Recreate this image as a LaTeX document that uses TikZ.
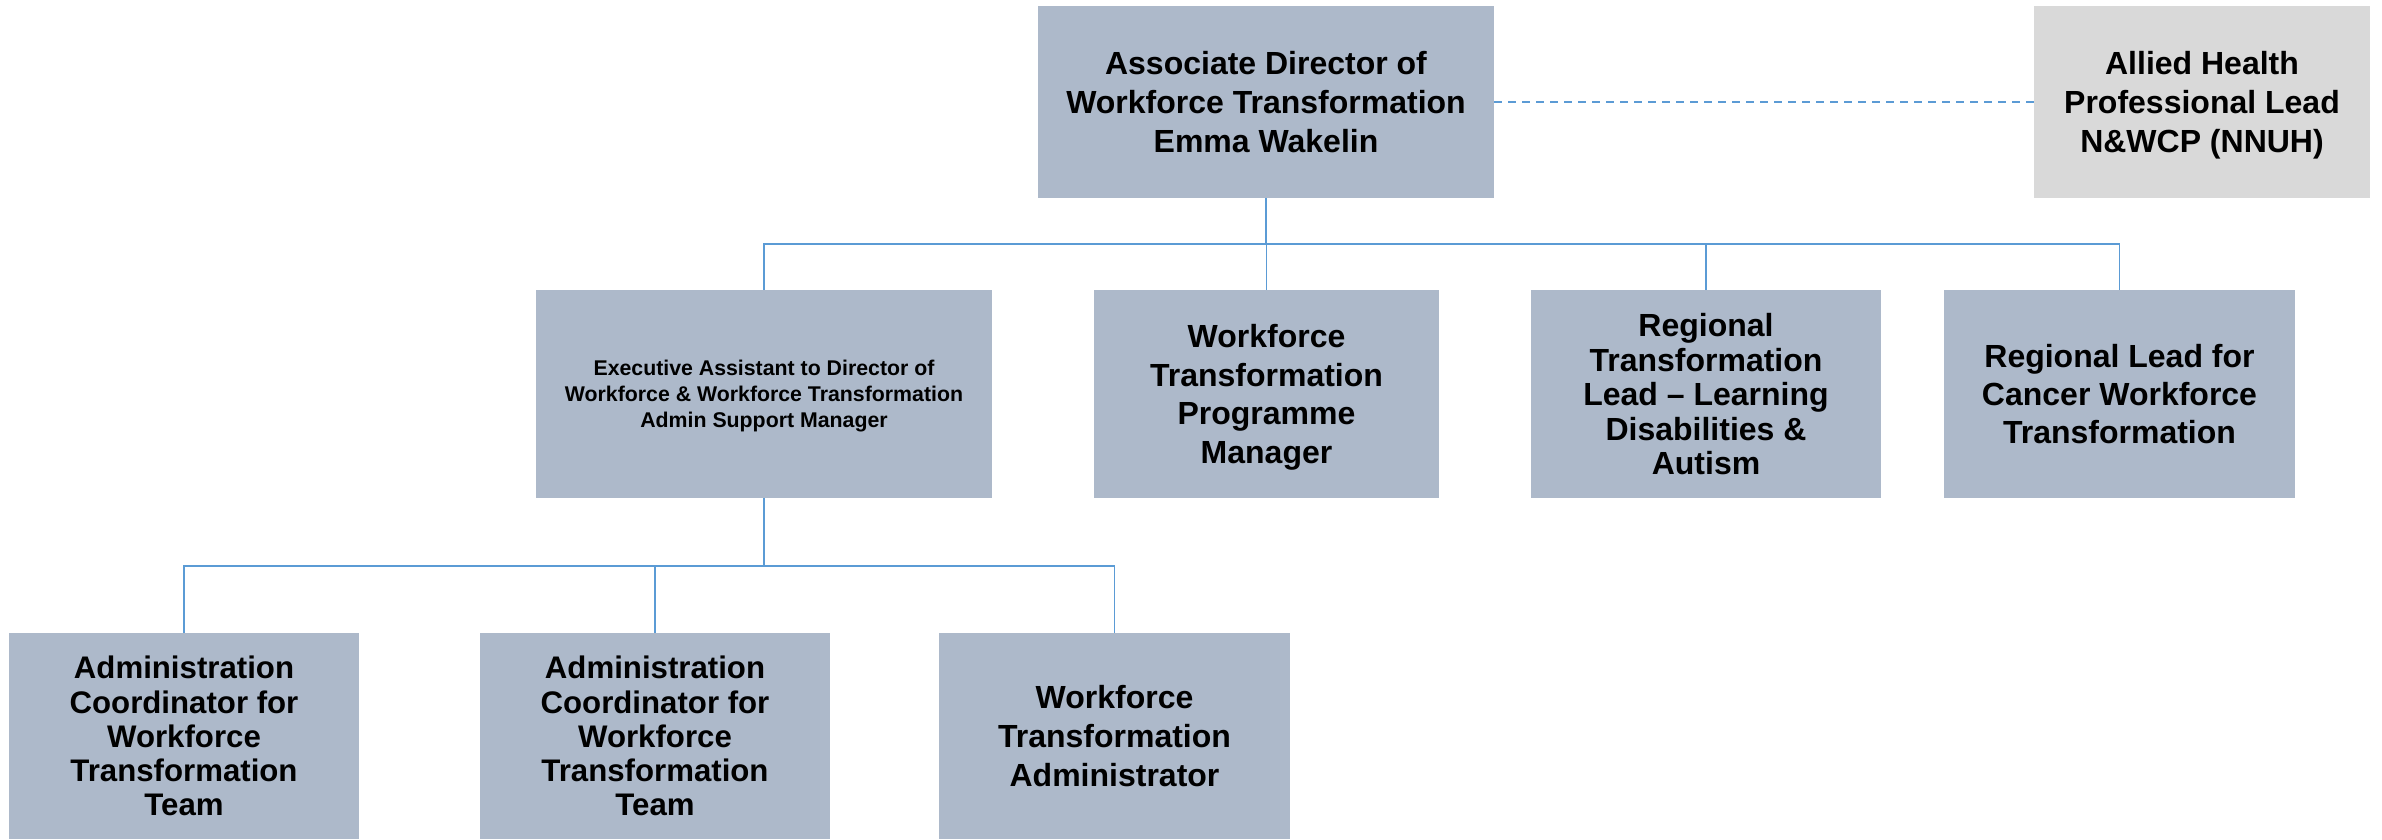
\documentclass[tikz,border=0pt]{standalone}
\usepackage{fontspec}
\setmainfont{Liberation Sans}
\begin{document}
\begin{tikzpicture}[x=1pt,y=-1pt,
  box/.style={rectangle, fill=boxfill, draw=none, inner sep=0pt, align=center,
    text depth=0pt, font=\bfseries\fontsize{32}{38.7}\selectfont},
  graybox/.style={box, fill=grayfill},
  conn/.style={draw=linecol, line width=1.7pt},
  dconn/.style={draw=linecol, line width=2.2pt, dash pattern=on 8pt off 6pt}]
\definecolor{boxfill}{HTML}{ADB9CA}
\definecolor{grayfill}{HTML}{D9D9D9}
\definecolor{linecol}{HTML}{5B9BD5}
\useasboundingbox (0,0) rectangle (2382,839);
% level 0
\node[box, minimum width=456pt, minimum height=192pt] (top) at (1266,102)
  {Associate Director of\\Workforce Transformation\\Emma Wakelin};
\node[graybox, minimum width=336pt, minimum height=192pt] (ahp) at (2202,102)
  {Allied Health\\Professional Lead\\N\&WCP (NNUH)};
% level 1
\node[box, minimum width=456pt, minimum height=208pt,
  font=\bfseries\fontsize{21.3}{25.8}\selectfont] (exec) at (764,394)
  {Executive Assistant to Director of\\Workforce \& Workforce Transformation\\Admin Support Manager};
\node[box, minimum width=345pt, minimum height=208pt] (wtpm) at (1266.5,394)
  {Workforce\\Transformation\\Programme\\Manager};
\node[box, minimum width=350pt, minimum height=208pt,
  font=\bfseries\fontsize{32}{34.6}\selectfont] (rtl) at (1706,394)
  {Regional\\Transformation\\Lead -- Learning\\Disabilities \&\\Autism};
\node[box, minimum width=351pt, minimum height=208pt,
  font=\bfseries\fontsize{32}{38}\selectfont] (rlc) at (2119.5,394)
  {Regional Lead for\\Cancer Workforce\\Transformation};
% level 2
\node[box, minimum width=350pt, minimum height=206pt,
  font=\bfseries\fontsize{31.2}{34.2}\selectfont] (b1) at (184,736)
  {Administration\\Coordinator for\\Workforce\\Transformation\\Team};
\node[box, minimum width=350pt, minimum height=206pt,
  font=\bfseries\fontsize{31.2}{34.2}\selectfont] (b2) at (655,736)
  {Administration\\Coordinator for\\Workforce\\Transformation\\Team};
\node[box, minimum width=351pt, minimum height=206pt] (b3) at (1114.5,736)
  {Workforce\\Transformation\\Administrator};
% connectors
\coordinate (bus1) at (1266,244);
\coordinate (bus2) at (764,566);
\draw[dconn] (top.east) -- (ahp.west);
\draw[conn] (top.south) -- (bus1);
\draw[conn] (exec.north) |- (bus1);
\draw[conn] (rlc.north) |- (bus1);
\draw[conn] (rtl.north) -- (rtl.north |- bus1);
\draw[conn] (wtpm.north) -- (wtpm.north |- bus1);
\draw[conn] (exec.south) -- (bus2);
\draw[conn] (b1.north) |- (bus2);
\draw[conn] (b3.north) |- (bus2);
\draw[conn] (b2.north) -- (b2.north |- bus2);
\end{tikzpicture}
\end{document}
